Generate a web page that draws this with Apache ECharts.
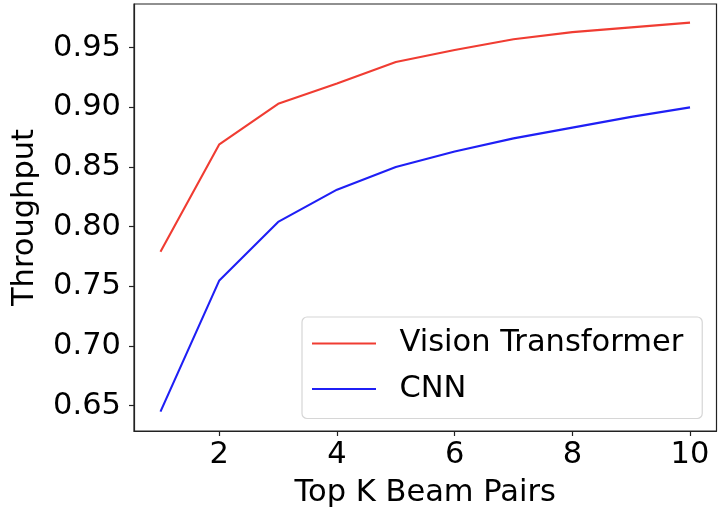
<!DOCTYPE html>
<html>
<head>
<meta charset="utf-8">
<script src="https://cdn.jsdelivr.net/npm/echarts@6/dist/echarts.min.js"></script>
<style>
  html, body { margin: 0; padding: 0; background: #fff; }
  #chart { width: 718px; height: 514px; }
</style>
</head>
<body>
<div id="chart"></div>
<script>
// Top-K beam pairs and the throughput reached by each model
const topK = [1, 2, 3, 4, 5, 6, 7, 8, 9, 10];
const vitThroughput = [0.779, 0.869, 0.903, 0.920, 0.938, 0.948, 0.957, 0.963, 0.967, 0.971];
const cnnThroughput = [0.645, 0.755, 0.804, 0.831, 0.850, 0.863, 0.874, 0.883, 0.892, 0.900];
const xTicks = [2, 4, 6, 8, 10];
const yTicks = [0.65, 0.70, 0.75, 0.80, 0.85, 0.90, 0.95];
const seriesNames = ['Vision Transformer', 'CNN'];

const FONT = 'DejaVu Sans';
const FS = 30.5;
const toPairs = (xs, ys) => xs.map((x, i) => [x, ys[i]]);

const chart = echarts.init(document.getElementById('chart'), null, { renderer: 'canvas' });
chart.setOption({
  animation: false,
  backgroundColor: '#fff',
  grid: {
    left: 134, right: 1.5, top: 4, bottom: 83,
    show: true, borderColor: '#222', borderWidth: 1.2, backgroundColor: 'transparent'
  },
  xAxis: {
    type: 'value',
    min: 0.55, max: 10.45,
    name: 'Top K Beam Pairs',
    nameLocation: 'middle',
    nameGap: 47,
    nameTextStyle: { fontFamily: FONT, fontSize: FS, color: '#000' },
    axisLine: { show: true, onZero: false, lineStyle: { color: '#222', width: 1.2 } },
    axisTick: { show: true, length: 5, customValues: xTicks, lineStyle: { color: '#222', width: 1.2 } },
    axisLabel: { customValues: xTicks, fontFamily: FONT, fontSize: FS, color: '#000', margin: 9 },
    splitLine: { show: false }
  },
  yAxis: {
    type: 'value',
    min: 0.6288, max: 0.9866,
    name: 'Throughput',
    nameLocation: 'middle',
    nameGap: 93,
    nameTextStyle: { fontFamily: FONT, fontSize: FS, color: '#000' },
    axisLine: { show: true, onZero: false, lineStyle: { color: '#222', width: 1.2 } },
    axisTick: { show: true, length: 5, customValues: yTicks, lineStyle: { color: '#222', width: 1.2 } },
    axisLabel: {
      customValues: yTicks, fontFamily: FONT, fontSize: FS, color: '#000', margin: 13,
      formatter: v => v.toFixed(2)
    },
    splitLine: { show: false }
  },
  legend: {
    data: seriesNames,
    orient: 'vertical',
    left: 302, top: 317,
    padding: [11, 19, 14, 10],
    itemGap: 14.5,
    itemWidth: 64, itemHeight: 2,
    icon: 'rect',
    backgroundColor: 'rgba(255,255,255,0.8)',
    borderColor: '#d6d6d6', borderWidth: 1.2, borderRadius: 5,
    textStyle: { fontFamily: FONT, fontSize: FS, color: '#000', padding: [0, 0, 0, 18.5] }
  },
  series: [
    {
      name: seriesNames[0], type: 'line', data: toPairs(topK, vitThroughput),
      symbol: 'none', lineStyle: { color: '#f03c32', width: 2.1 }, itemStyle: { color: '#f03c32' }
    },
    {
      name: seriesNames[1], type: 'line', data: toPairs(topK, cnnThroughput),
      symbol: 'none', lineStyle: { color: '#1f1ff5', width: 2.1 }, itemStyle: { color: '#1f1ff5' }
    }
  ]
});
</script>
</body>
</html>
